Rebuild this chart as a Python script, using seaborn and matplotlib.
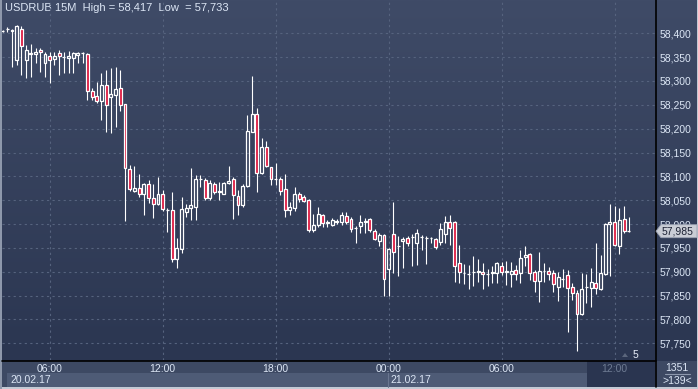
import numpy as np
import pandas as pd
import matplotlib
matplotlib.use("Agg")
import matplotlib.pyplot as plt
from matplotlib.patches import Rectangle, Polygon
from matplotlib.colors import LinearSegmentedColormap
import seaborn as sns

# USDRUB 15M candles, first bar 20.02.17 03:30
opens = [58.404, 58.408, 58.404, 58.345, 58.410, 58.344, 58.357, 58.356, 58.365, 58.338,
         58.352, 58.347, 58.358, 58.350, 58.348, 58.348, 58.354, 58.358, 58.357, 58.279,
         58.268, 58.259, 58.291, 58.266, 58.271, 58.285, 58.251, 58.115, 58.070, 58.076,
         58.062, 58.085, 58.054, 58.042, 58.064, 58.029, 58.029, 57.926, 57.947, 58.026,
         58.033, 58.036, 58.094, 58.092, 58.054, 58.085, 58.068, 58.064, 58.087, 58.094,
         58.059, 58.039, 58.080, 58.194, 58.231, 58.106, 58.162, 58.119, 58.094, 58.094,
         58.073, 58.029, 58.033, 58.062, 58.056, 58.050, 57.988, 57.998, 58.019, 58.003,
         57.998, 58.005, 58.005, 58.017, 58.010, 57.991, 57.996, 58.005, 58.010, 57.986,
         57.965, 57.977, 57.905, 57.979, 57.954, 57.965, 57.970, 57.973, 57.961, 57.973,
         57.971, 57.970, 57.968, 57.963, 57.979, 58.005, 58.005, 57.919, 57.897, 57.895,
         57.899, 57.900, 57.899, 57.895, 57.897, 57.897, 57.912, 57.900, 57.895, 57.904,
         57.898, 57.930, 57.937, 57.900, 57.881, 57.902, 57.902, 57.897, 57.867, 57.885,
         57.893, 57.869, 57.856, 57.812, 57.867, 57.865, 57.876, 57.863, 57.895, 58.000,
         58.004, 57.953, 58.010, 57.986]
highs = [58.407, 58.413, 58.410, 58.417, 58.415, 58.375, 58.377, 58.369, 58.369, 58.361,
         58.361, 58.361, 58.365, 58.361, 58.363, 58.361, 58.361, 58.361, 58.359, 58.285,
         58.298, 58.316, 58.323, 58.327, 58.329, 58.323, 58.252, 58.124, 58.122, 58.105,
         58.086, 58.092, 58.084, 58.099, 58.071, 58.033, 58.067, 57.970, 58.057, 58.042,
         58.117, 58.103, 58.103, 58.096, 58.092, 58.089, 58.088, 58.089, 58.122, 58.099,
         58.071, 58.085, 58.229, 58.310, 58.243, 58.180, 58.174, 58.120, 58.127, 58.099,
         58.105, 58.047, 58.078, 58.068, 58.061, 58.052, 58.021, 58.036, 58.021, 58.009,
         58.012, 58.010, 58.026, 58.026, 58.015, 57.996, 58.019, 58.012, 58.012, 57.989,
         57.981, 57.979, 57.949, 58.047, 57.975, 57.973, 57.975, 57.980, 57.989, 57.977,
         57.975, 57.973, 57.970, 58.002, 58.017, 58.019, 58.007, 57.956, 57.916, 57.914,
         57.932, 57.927, 57.919, 57.905, 57.912, 57.921, 57.921, 57.923, 57.921, 57.914,
         57.946, 57.954, 57.940, 57.904, 57.942, 57.919, 57.910, 57.904, 57.900, 57.905,
         57.904, 57.877, 57.861, 57.897, 57.895, 57.908, 57.960, 57.935, 58.002, 58.042,
         58.038, 58.033, 58.038, 58.015]
lows = [58.402, 58.403, 58.330, 58.333, 58.312, 58.306, 58.308, 58.338, 58.319, 58.309,
        58.295, 58.333, 58.312, 58.316, 58.316, 58.316, 58.337, 58.338, 58.260, 58.260,
        58.253, 58.218, 58.194, 58.190, 58.204, 58.236, 58.007, 58.070, 58.068, 58.057,
        58.019, 58.044, 58.012, 58.040, 58.028, 57.984, 57.921, 57.907, 57.939, 58.015,
        58.009, 58.009, 58.078, 58.050, 58.050, 58.064, 58.050, 58.063, 58.084, 58.010,
        58.019, 58.036, 58.078, 58.192, 58.068, 58.104, 58.120, 58.082, 58.082, 58.061,
        58.014, 58.019, 58.028, 58.047, 58.047, 57.984, 57.984, 57.994, 57.994, 57.993,
        57.996, 58.000, 57.998, 58.000, 57.984, 57.961, 57.982, 57.981, 57.984, 57.966,
        57.953, 57.849, 57.849, 57.897, 57.891, 57.907, 57.954, 57.911, 57.914, 57.945,
        57.916, 57.960, 57.947, 57.956, 57.960, 57.956, 57.879, 57.876, 57.874, 57.863,
        57.870, 57.879, 57.863, 57.870, 57.876, 57.877, 57.893, 57.872, 57.867, 57.883,
        57.877, 57.911, 57.883, 57.858, 57.837, 57.879, 57.883, 57.858, 57.839, 57.867,
        57.774, 57.841, 57.733, 57.809, 57.834, 57.827, 57.853, 57.861, 57.893, 57.890,
        57.953, 57.938, 57.982, 57.984]
closes = [58.405, 58.408, 58.406, 58.415, 58.373, 58.365, 58.358, 58.361, 58.360, 58.357,
          58.344, 58.352, 58.352, 58.350, 58.352, 58.358, 58.358, 58.358, 58.278, 58.267,
          58.259, 58.291, 58.249, 58.273, 58.283, 58.250, 58.117, 58.073, 58.076, 58.064,
          58.085, 58.054, 58.041, 58.064, 58.031, 58.029, 57.926, 57.949, 58.031, 58.033,
          58.039, 58.094, 58.094, 58.054, 58.087, 58.068, 58.068, 58.087, 58.091, 58.060,
          58.039, 58.080, 58.195, 58.231, 58.106, 58.161, 58.122, 58.094, 58.094, 58.070,
          58.029, 58.035, 58.064, 58.053, 58.049, 57.988, 57.998, 58.021, 58.003, 58.003,
          58.009, 58.005, 58.019, 58.004, 57.989, 57.991, 58.004, 58.005, 57.988, 57.968,
          57.977, 57.884, 57.947, 57.942, 57.954, 57.968, 57.960, 57.973, 57.982, 57.973,
          57.971, 57.970, 57.951, 57.989, 58.004, 57.991, 57.911, 57.900, 57.897, 57.895,
          57.900, 57.900, 57.895, 57.895, 57.899, 57.919, 57.900, 57.900, 57.902, 57.895,
          57.928, 57.935, 57.898, 57.881, 57.902, 57.902, 57.895, 57.874, 57.888, 57.885,
          57.865, 57.855, 57.812, 57.863, 57.867, 57.878, 57.865, 57.897, 58.000, 58.004,
          57.955, 58.009, 57.986, 57.985]

times = pd.date_range("2017-02-20 03:30", periods=len(opens), freq="15min")
df = pd.DataFrame({"time": times, "open": opens, "high": highs, "low": lows, "close": closes})
df["i"] = np.arange(len(df))

W, H = 698, 389
BG_TOP, BG_BOT = "#3f4b67", "#2b3651"
TXT = "#dce6f5"
RED = "#dc143c"

sns.set_theme(style="dark", rc={"axes.facecolor": "none", "figure.facecolor": BG_BOT})
plt.rcParams["font.family"] = ["Liberation Sans", "DejaVu Sans"]

fig = plt.figure(figsize=(W / 100, H / 100), dpi=100)

def px_rect(x0, y0, x1, y1):
    return [x0 / W, 1 - y1 / H, (x1 - x0) / W, (y1 - y0) / H]

def new_overlay(z):
    a = fig.add_axes([0, 0, 1, 1], zorder=z)
    a.set_xlim(0, W)
    a.set_ylim(H, 0)
    a.axis("off")
    a.patch.set_alpha(0)
    return a

# background / frame in pixel space
bg = new_overlay(0)
grad = np.linspace(0, 1, 256).reshape(-1, 1)
cmap = LinearSegmentedColormap.from_list("bg", [BG_TOP, BG_BOT])
bg.imshow(grad, cmap=cmap, extent=(0, W, 361, 0), aspect="auto")
bg.add_patch(Rectangle((0, 361), W, 28, color="#3d4963", lw=0))
bg.add_patch(Rectangle((7, 373), 580, 14, color="#4e5b76", lw=0))
bg.add_patch(Rectangle((587, 361), 68, 26, color="#2a3550", lw=0))
bg.plot([388, 388], [373, 387], color="#6a7690", lw=0.8)
bg.add_patch(Rectangle((0, 387), W, 2, color="#c3cad5", lw=0))
bg.add_patch(Rectangle((0, 0), 1.5, H, color="#8e98ab", lw=0))
bg.add_patch(Rectangle((696.5, 0), 1.5, H, color="#c3cad5", lw=0))
bg.plot([2, 655.5], [360.5, 360.5], color="black", lw=1.2)
bg.plot([655.5, 655.5], [0, 387], color="black", lw=1.2)

# main chart
ax = fig.add_axes(px_rect(2, 1, 655, 360), zorder=1)
ax.patch.set_alpha(0)
for s in ax.spines.values():
    s.set_visible(False)
ax.set_xlim(-0.13, 138.57)
ax.set_ylim(57.7149, 58.4677)

ax.set_axisbelow(True)
ax.grid(True, color="#56637e", linestyle=(0, (2, 3)), linewidth=0.8)

# wicks (split so hollow bodies stay empty)
body_lo = df[["open", "close"]].min(axis=1)
body_hi = df[["open", "close"]].max(axis=1)
ax.vlines(df["i"], df["low"], body_lo, color="white", lw=0.8, zorder=2)
ax.vlines(df["i"], body_hi, df["high"], color="white", lw=0.8, zorder=2)
bear = df["close"] < df["open"]
heights = (body_hi - body_lo).clip(lower=0.0005)
ax.bar(df["i"], heights, bottom=body_lo, width=0.62,
       color=np.where(bear, RED, "none").tolist(),
       edgecolor="white", linewidth=0.9, zorder=3)

# axes ticks
ax.yaxis.tick_right()
yt = np.arange(57.75, 58.401, 0.05)
ax.set_yticks(yt)
ax.set_yticklabels([f"{v:.3f}".replace(".", ",") for v in yt])
ax.tick_params(axis="y", length=0, pad=3, labelsize=7.5, labelcolor=TXT)

mask = (df["time"].dt.minute == 0) & (df["time"].dt.hour % 6 == 0)
ax.set_xticks(df.loc[mask, "i"])
ax.set_xticklabels(df.loc[mask, "time"].dt.strftime("%H:%M"))
ax.tick_params(axis="x", length=0, pad=3, labelsize=7.5, labelcolor=TXT)
ax.get_xticklabels()[-1].set_color("#6e7b93")

# title
hi, lo = df["high"].max(), df["low"].min()
fmt = lambda v: f"{v:.3f}".replace(".", ",")
bg.text(5, 8, f"USDRUB 15M  High = {fmt(hi)}  Low  = {fmt(lo)}",
        color=TXT, fontsize=8, va="center", ha="left")

# date labels
fig.canvas.draw()
to_px = lambda x, y: (ax.transData.transform((x, y))[0], H - ax.transData.transform((x, y))[1])
day_start = df.index[df["time"].dt.date != df["time"].dt.date.shift()].tolist()
for k, idx in enumerate(day_start):
    x0 = 10 if k == 0 else to_px(df.loc[idx, "i"], 58)[0] + 2
    bg.text(x0, 380, df.loc[idx, "time"].strftime("%d.%m.%y"), color=TXT,
            fontsize=7.5, va="center", ha="left")

# current price tag (drawn over the axis labels, like the terminal does)
top = new_overlay(3)
last = df["close"].iloc[-1]
_, py = to_px(0, last)
top.add_patch(Polygon([(656, py), (661, py - 6.5), (697, py - 6.5), (697, py + 6.5), (661, py + 6.5)],
                      closed=True, facecolor="#c9cdd5", edgecolor="#9aa2b2", lw=0.6))
top.text(662, py, fmt(last), color="#1c2234", fontsize=7.5, va="center", ha="left")

# little marker and right-panel counters
bg.add_patch(Polygon([(622, 357), (628, 357), (625, 353)], closed=True, color="#5b667c", lw=0))
bg.text(633, 355, "5", color="#e8eefa", fontsize=7.5, va="center", ha="left")
bg.text(677, 368, "1351", color=TXT, fontsize=7.5, va="center", ha="center")
bg.plot([665, 690], [374, 374], color="#8d98ad", lw=0.8)
bg.text(677, 381, ">139<", color=TXT, fontsize=7.5, va="center", ha="center")

fig.savefig("out.png", dpi=100)
